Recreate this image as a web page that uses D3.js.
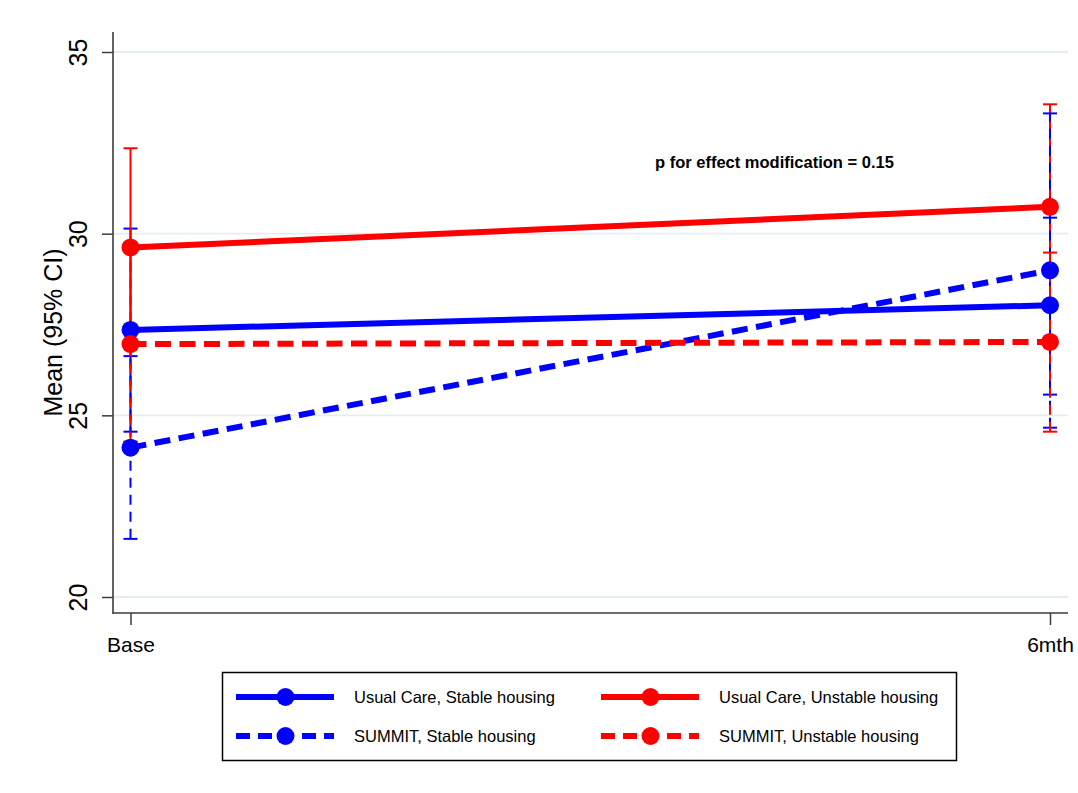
<!DOCTYPE html>
<html>
<head>
<meta charset="utf-8">
<script src="https://cdn.jsdelivr.net/npm/d3@7"></script>
<style>
  html, body { margin: 0; padding: 0; background: #fff; }
  svg { display: block; font-family: "Liberation Sans", Arial, sans-serif; }
</style>
</head>
<body>
<svg id="chart" width="1078" height="793"></svg>
<script>
// Time points
const timepoints = ["Base", "6mth"];

// Group labels (legend order)
const groups = [
  "Usual Care, Stable housing",
  "Usual Care, Unstable housing",
  "SUMMIT, Stable housing",
  "SUMMIT, Unstable housing"
];

// Group means at each time point
const usualStableMean   = [27.35, 28.03];
const usualUnstableMean = [29.62, 30.74];
const summitStableMean  = [24.11, 28.99];
const summitUnstableMean= [26.96, 27.02];

// 95% CI bounds at each time point
const usualStableLo   = [24.55, 25.57];
const usualStableHi   = [30.14, 30.44];
const usualUnstableLo = [26.88, 27.92];
const usualUnstableHi = [32.35, 33.56];
const summitStableLo  = [21.60, 24.66];
const summitStableHi  = [26.63, 33.31];
const summitUnstableLo= [24.28, 24.55];
const summitUnstableHi= [29.64, 29.48];

// Y axis ticks
const yTicks = [20, 25, 30, 35];

const annotation = "p for effect modification = 0.15";
const yTitle = "Mean (95% CI)";

const series = [
  { name: groups[0], mean: usualStableMean,    lo: usualStableLo,    hi: usualStableHi,    color: "#0000ff", dashed: false },
  { name: groups[1], mean: usualUnstableMean,  lo: usualUnstableLo,  hi: usualUnstableHi,  color: "#ff0000", dashed: false },
  { name: groups[2], mean: summitStableMean,   lo: summitStableLo,   hi: summitStableHi,   color: "#0000ff", dashed: true },
  { name: groups[3], mean: summitUnstableMean, lo: summitUnstableLo, hi: summitUnstableHi, color: "#ff0000", dashed: true }
];

const svg = d3.select("#chart");

const plot = { left: 113, right: 1068, top: 32, bottom: 613 };

const x = d3.scalePoint().domain(timepoints).range([130.5, 1050]);
const y = d3.scaleLinear().domain([20, 35]).range([597, 52]);

const axisColor = "#3c3c3c";

// gridlines
svg.append("g")
  .selectAll("line")
  .data(yTicks)
  .join("line")
  .attr("x1", plot.left).attr("x2", plot.right)
  .attr("y1", d => y(d)).attr("y2", d => y(d))
  .attr("stroke", "#e4eef0")
  .attr("stroke-width", 1.8);

// y axis
const yAxis = d3.axisLeft(y).tickValues(yTicks).tickSize(11).tickPadding(0).tickFormat(d3.format("d"));
const gy = svg.append("g").attr("transform", `translate(${plot.left},0)`).call(yAxis);
gy.select(".domain").remove();
gy.selectAll(".tick line").attr("stroke", axisColor).attr("stroke-width", 1.5);
gy.selectAll(".tick text")
  .attr("x", null).attr("dy", null)
  .attr("text-anchor", "middle")
  .attr("transform", "translate(-26,0) rotate(-90)")
  .attr("fill", "#000")
  .style("font-size", "25px");
svg.append("line")
  .attr("x1", plot.left).attr("x2", plot.left)
  .attr("y1", plot.top).attr("y2", plot.bottom + 0.75)
  .attr("stroke", axisColor).attr("stroke-width", 1.6);

// x axis
const xAxis = d3.axisBottom(x).tickSize(12).tickPadding(8);
const gx = svg.append("g").attr("transform", `translate(0,${plot.bottom})`).call(xAxis);
gx.select(".domain").remove();
gx.selectAll(".tick line").attr("stroke", axisColor).attr("stroke-width", 1.5);
gx.selectAll(".tick text").attr("fill", "#000").style("font-size", "21px").attr("dy", "0.9em");
svg.append("line")
  .attr("x1", plot.left - 0.75).attr("x2", plot.right)
  .attr("y1", plot.bottom).attr("y2", plot.bottom)
  .attr("stroke", axisColor).attr("stroke-width", 1.6);

// y axis title
svg.append("text")
  .attr("transform", `translate(62,${(y(20) + y(35)) / 2 + 8}) rotate(-90)`)
  .attr("text-anchor", "middle")
  .style("font-size", "25px")
  .attr("fill", "#000")
  .text(yTitle);

// confidence intervals
const capHalf = 7;
series.forEach(s => {
  const g = svg.append("g");
  timepoints.forEach((t, i) => {
    const cx = x(t);
    g.append("line")
      .attr("x1", cx).attr("x2", cx)
      .attr("y1", y(s.lo[i])).attr("y2", y(s.hi[i]))
      .attr("stroke", s.color).attr("stroke-width", 2)
      .attr("stroke-dasharray", s.dashed ? "10,7" : null);
    [s.lo[i], s.hi[i]].forEach(v => {
      g.append("line")
        .attr("x1", cx - capHalf).attr("x2", cx + capHalf)
        .attr("y1", y(v)).attr("y2", y(v))
        .attr("stroke", s.color).attr("stroke-width", 2);
    });
  });
});

// mean lines and markers
const line = d3.line().x((d, i) => x(timepoints[i])).y(d => y(d));
series.forEach(s => {
  svg.append("path")
    .attr("d", line(s.mean))
    .attr("fill", "none")
    .attr("stroke", s.color)
    .attr("stroke-width", 6)
    .attr("stroke-dasharray", s.dashed ? "16,8.5" : null);
});
series.forEach(s => {
  svg.append("g")
    .selectAll("circle")
    .data(s.mean)
    .join("circle")
    .attr("cx", (d, i) => x(timepoints[i]))
    .attr("cy", d => y(d))
    .attr("r", 9)
    .attr("fill", s.color);
});

// annotation
svg.append("text")
  .attr("x", 655).attr("y", 168)
  .style("font-size", "16.5px")
  .style("font-weight", "bold")
  .attr("fill", "#000")
  .text(annotation);

// legend
const legend = svg.append("g");
legend.append("rect")
  .attr("x", 222.5).attr("y", 672.5)
  .attr("width", 734).attr("height", 88)
  .attr("fill", "#fff")
  .attr("stroke", "#000").attr("stroke-width", 1.5);

const legendPos = [
  { x: 236, y: 697 },
  { x: 601, y: 697 },
  { x: 236, y: 736 },
  { x: 601, y: 736 }
];
series.forEach((s, i) => {
  const p = legendPos[i];
  const g = legend.append("g").attr("transform", `translate(${p.x},${p.y})`);
  g.append("line")
    .attr("x1", 0).attr("x2", 98)
    .attr("y1", 0).attr("y2", 0)
    .attr("stroke", s.color).attr("stroke-width", 6)
    .attr("stroke-dasharray", s.dashed ? "14,8" : null);
  g.append("circle").attr("cx", 49.5).attr("cy", 0).attr("r", 9).attr("fill", s.color);
  g.append("text")
    .attr("x", 118).attr("y", 6)
    .style("font-size", "16.5px")
    .attr("fill", "#000")
    .text(s.name);
});
</script>
</body>
</html>
